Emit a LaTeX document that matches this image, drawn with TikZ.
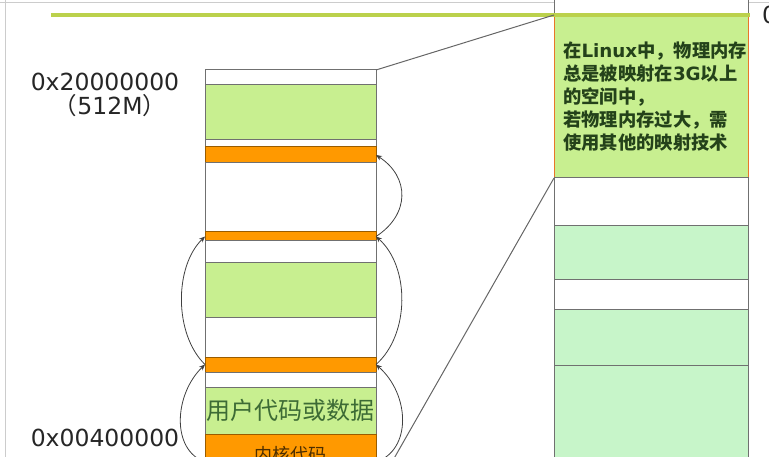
\documentclass[tikz,border=0pt]{standalone}
\usepackage{fontspec}
\setmainfont{DejaVu Sans}
\newfontfamily\cjk{Noto Sans CJK SC}
\usepackage{xcolor}
\usetikzlibrary{positioning,arrows.meta}
\definecolor{leafgreen}{HTML}{C8EF90}
\definecolor{mintgreen}{HTML}{C7F5C9}
\definecolor{amber}{HTML}{FF9900}
\definecolor{rulegreen}{HTML}{BBD14C}
\definecolor{edgegray}{HTML}{707070}
\definecolor{usergreen}{HTML}{3D6B35}
\definecolor{notegreen}{HTML}{24421A}
\definecolor{noteorange}{HTML}{E8752A}

\begin{document}
\begin{tikzpicture}[x=1pt,y=-1pt,
    band/.style={draw=edgegray,line width=1pt,inner sep=0pt,outer sep=0pt,minimum height=#1},
    free/.style={band=#1,minimum width=171pt,fill=white},
    data/.style={band=#1,minimum width=171pt,fill=leafgreen},
    hop/.style={band=#1,minimum width=171pt,fill=amber,draw=amber!60!black},
    rfree/.style={band=#1,minimum width=194pt,fill=white},
    rdata/.style={band=#1,minimum width=194pt,fill=mintgreen},
    jump/.style={draw=black!75,line width=0.8pt,-{Stealth[length=6pt,width=5pt]}},
    link/.style={draw=black!60,line width=1pt},
    addr/.style={font=\fontsize{23.5}{26}\selectfont,text=black!85}]
    \useasboundingbox (0,0) rectangle (769,457);
    \clip (0,0) rectangle (769,457);
    \draw[black!20] (0,2) -- (769,2) (5,0) -- (5,457);

    \node[addr] (hi) at (105,82) {0x20000000};
    \node[addr] (size) at (110,106) {{\cjk （}512M{\cjk ）}};
    \node[addr] (lo) at (105,438) {0x00400000};
    \node[addr,anchor=west,inner sep=0pt] (kbase) at (762,15) {0};

    \node[free=15pt,anchor=north west] (top) at (205,70) {};
    \node[data=55pt,below=0pt of top] (g1) {};
    \node[free=7pt,below=0pt of g1] (w2) {};
    \node[hop=16pt,below=0pt of w2] (o1) {};
    \node[free=69pt,below=0pt of o1] (w3) {};
    \node[hop=9pt,below=0pt of w3] (o2) {};
    \node[free=22pt,below=0pt of o2] (w4) {};
    \node[data=55pt,below=0pt of w4] (g2) {};
    \node[free=39pt,below=0pt of g2] (w5) {};
    \node[hop=15pt,below=0pt of w5] (o3) {};
    \node[free=15pt,below=0pt of o3] (w6) {};
    \node[data=47pt,below=0pt of w6,text=usergreen,
          font=\cjk\fontsize{24}{24}\selectfont] (user) {用户代码或数据};
    \node[hop=56pt,below=0pt of user] (kern) {};
    \node[font=\cjk\fontsize{18}{18}\selectfont,text=black!70!amber] (kernlbl) at (290.5,455) {内核代码};

    \node[rfree=25pt,anchor=north west] (rtop) at (554,-10) {};
    \node[band=163pt,minimum width=194pt,fill=leafgreen,draw=noteorange,line width=1pt,
          below=0pt of rtop] (note) {};
    \node[rfree=48pt,below=0pt of note] (rw1) {};
    \node[rdata=54pt,below=0pt of rw1] (rg1) {};
    \node[rfree=30pt,below=0pt of rg1] (rw2) {};
    \node[rdata=55pt,below=0pt of rw2] (rg2) {};
    \node[rdata=135pt,below=0pt of rg2] (rg3) {};
    \node[anchor=north west,inner sep=0pt,align=left,text=notegreen,
          font=\cjk\bfseries\fontsize{18.3}{23}\selectfont] (notetext) at (563,42)
          {在{\rmfamily\bfseries Linux}中，物理内存\\总是被映射在{\rmfamily\bfseries 3G}以上\\的空间中，\\若物理内存过大，需\\使用其他的映射技术};

    \coordinate (rulestart) at (51,15);
    \draw[rulegreen,line width=3.5pt] (rulestart) -- ([xshift=2pt]note.north east);

    \draw[link] (top.north east) -- (note.north west);
    \draw[link] (note.south west) -- (kern.south east);

    \draw[jump] (o2.east) .. controls +(34,-22) and +(34,22) .. (o1.east);
    \draw[jump] (o3.east) .. controls +(34,-30) and +(34,30) .. (o2.east);
    \draw[jump] (kern.east) .. controls +(36,-12) and +(34,30) .. (o3.east);
    \draw[jump] (o3.west) .. controls +(-31,-30) and +(-31,30) .. (o2.west);
    \draw[jump] (kern.west) .. controls +(-34,-12) and +(-31,30) .. (o3.west);
\end{tikzpicture}
\end{document}
